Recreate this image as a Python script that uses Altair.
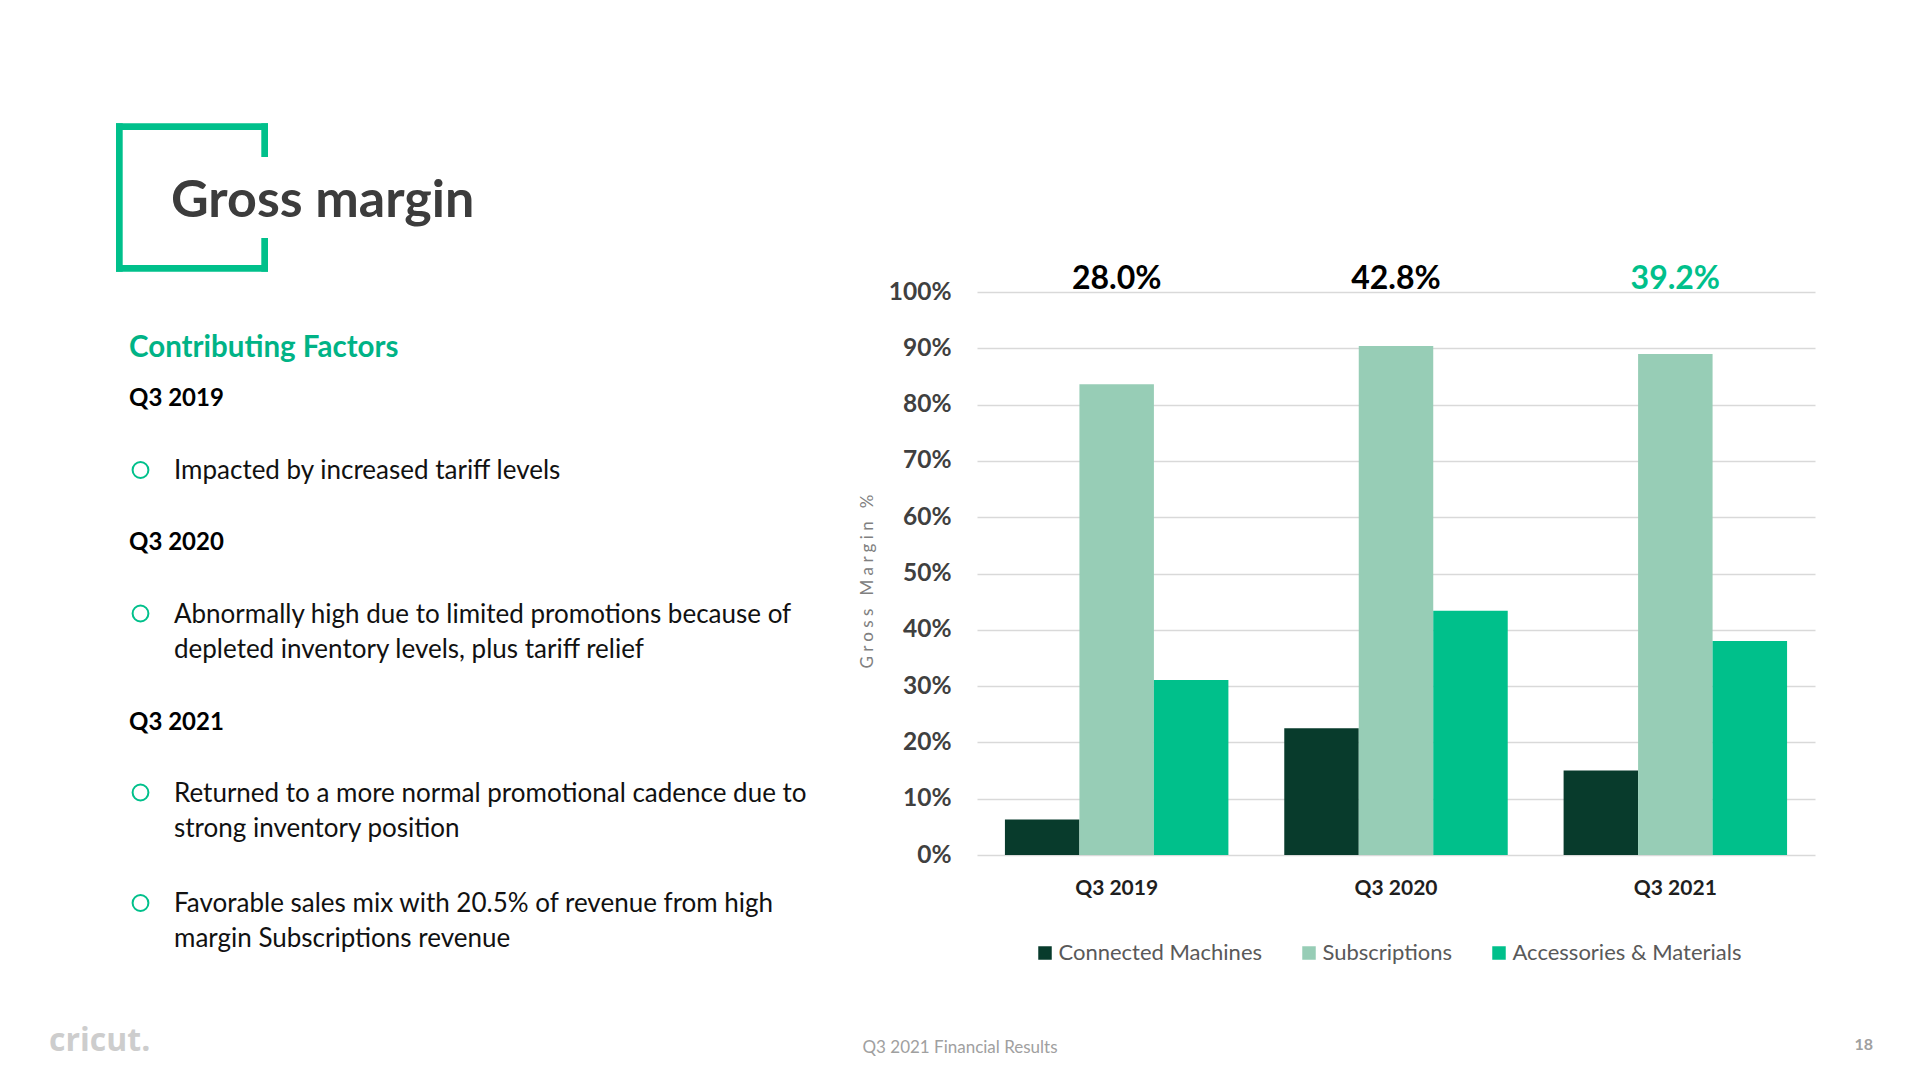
import altair as alt
import pandas as pd

# ---------------- data ----------------
quarters = ["Q3 2019", "Q3 2020", "Q3 2021"]
series = ["Connected Machines", "Subscriptions", "Accessories & Materials"]
connected_machines = [6.3, 22.5, 15.0]
subscriptions = [83.6, 90.4, 89.0]
accessories_materials = [31.1, 43.4, 38.0]
total_gross_margin = [28.0, 42.8, 39.2]
y_ticks = [0, 10, 20, 30, 40, 50, 60, 70, 80, 90, 100]

slide_title = "Gross margin"
section_title = "Contributing Factors"
period_headers = ["Q3 2019", "Q3 2020", "Q3 2021"]
bullets_2019 = [["Impacted by increased tariff levels"]]
bullets_2020 = [["Abnormally high due to limited promotions because of",
                 "depleted inventory levels, plus tariff relief"]]
bullets_2021 = [["Returned to a more normal promotional cadence due to",
                 "strong inventory position"],
                ["Favorable sales mix with 20.5% of revenue from high",
                 "margin Subscriptions revenue"]]
y_title = "Gross Margin %"
footer_center = "Q3 2021 Financial Results"
page_number = "18"
logo_text = "cricut."

# ---------------- tables ----------------
rows = []
for i, q in enumerate(quarters):
    for s, vals in zip(series, [connected_machines, subscriptions, accessories_materials]):
        rows.append({"quarter": q, "series": s, "value": vals[i]})
bars_df = pd.DataFrame(rows)
totals_df = pd.DataFrame({"quarter": quarters, "total": total_gross_margin})

# ---------------- layout ----------------
W, H = 838, 563
PAD_L, PAD_T = 969, 284
PAD_R = 1900 - PAD_L - W
PAD_B = 1060 - PAD_T - H
OX, OY = 8 + PAD_L, 8 + PAD_T

GREEN = "#00c08b"
DARK = "#083b2c"
LIGHT = "#97cdb6"
FONT = "Lato"
NB = "\u00a0"


def spaced(s):
    # letter-spaced text (non-breaking spaces so SVG keeps them)
    return NB.join(NB if ch == " " else ch for ch in s)


def page_text(s, px, py, size, color, weight="normal", align="left",
              font=FONT, angle=None, baseline="alphabetic"):
    kw = dict(text=s, fontSize=size, color=color, fontWeight=weight,
              align=align, baseline=baseline, font=font)
    if angle is not None:
        kw["angle"] = angle
    return alt.Chart(alt.Data(values=[{}])).mark_text(**kw).encode(
        x=alt.value(px - OX), y=alt.value(py - OY))


def page_rule(x1, y1, x2=None, y2=None, width=6.7, color=GREEN):
    enc = dict(x=alt.value(x1 - OX), y=alt.value(y1 - OY))
    if x2 is not None:
        enc["x2"] = alt.value(x2 - OX)
    if y2 is not None:
        enc["y2"] = alt.value(y2 - OY)
    return alt.Chart(alt.Data(values=[{}])).mark_rule(
        color=color, strokeWidth=width).encode(**enc)


def bullet(px, py):
    return alt.Chart(alt.Data(values=[{}])).mark_point(
        shape="circle", filled=False, stroke=GREEN, strokeWidth=2, size=250, opacity=1
    ).encode(x=alt.value(px - OX), y=alt.value(py - OY))


# ---------------- chart ----------------
bars = alt.Chart(bars_df).mark_bar().encode(
    x=alt.X("quarter:N", sort=quarters, title=None,
            scale=alt.Scale(paddingInner=0.2, paddingOuter=0.1)),
    xOffset=alt.XOffset("series:N", sort=series,
                        scale=alt.Scale(paddingInner=0, paddingOuter=0)),
    y=alt.Y("value:Q", title=None,
            scale=alt.Scale(domain=[0, 100], nice=False),
            axis=alt.Axis(values=y_ticks, labelExpr="datum.value + '%'")),
    color=alt.Color("series:N", sort=series,
                    scale=alt.Scale(domain=series, range=[DARK, LIGHT, GREEN]),
                    legend=alt.Legend(title=None, orient="none", direction="horizontal",
                                      legendX=57, legendY=650, symbolType="square",
                                      symbolSize=182, symbolStrokeWidth=0,
                                      labelFontSize=22, labelColor="#595959",
                                      labelFont=FONT, labelOffset=2.5, columnPadding=35,
                                      labelLimit=500, padding=0)),
)

totals = alt.Chart(totals_df).transform_calculate(
    label="format(datum.total, '.1f') + '%'"
).mark_text(fontSize=32, fontWeight="bold", font=FONT, baseline="alphabetic").encode(
    x=alt.X("quarter:N", sort=quarters, title=None),
    y=alt.value(288.5 - OY),
    text="label:N",
    color=alt.condition(alt.datum.quarter == quarters[-1], alt.value(GREEN), alt.value("#000000")),
)

layers = [bars, totals]

# y-axis title
layers.append(page_text(spaced(y_title), 868, 581.6, 17, "#808080", angle=270,
                        align="center", baseline="middle"))

# bracket around title
layers += [
    page_rule(119.35, 123.3, y2=271.7),
    page_rule(116, 126.65, x2=268),
    page_rule(116, 268.35, x2=268),
    page_rule(264.65, 123.3, y2=157),
    page_rule(264.65, 238, y2=271.7),
]

layers.append(page_text(slide_title, 171, 217, 52, "#3c3c3c", weight="bold"))
layers.append(page_text(section_title, 129, 357, 29.5, "#00b386", weight="bold"))

TX = 174
BX = 140.5
BS = 26
TC = "#111111"
layers.append(page_text(period_headers[0], 129, 406, 24, "#000000", weight="bold"))
layers.append(bullet(BX, 470))
layers.append(page_text(bullets_2019[0][0], TX, 478.5, BS, TC))

layers.append(page_text(period_headers[1], 129, 550, 24, "#000000", weight="bold"))
layers.append(bullet(BX, 613.5))
layers.append(page_text(bullets_2020[0][0], TX, 622.5, BS, TC))
layers.append(page_text(bullets_2020[0][1], TX, 658, BS, TC))

layers.append(page_text(period_headers[2], 129, 730, 24, "#000000", weight="bold"))
layers.append(bullet(BX, 792.5))
layers.append(page_text(bullets_2021[0][0], TX, 801.5, BS, TC))
layers.append(page_text(bullets_2021[0][1], TX, 837, BS, TC))
layers.append(bullet(BX, 903))
layers.append(page_text(bullets_2021[1][0], TX, 911.5, BS, TC))
layers.append(page_text(bullets_2021[1][1], TX, 947, BS, TC))

# footer
layers.append(page_text(logo_text, 49, 1051, 32, "#cdcdcd", weight="bold", font="Open Sans"))
layers.append(page_text(footer_center, 960, 1053, 17, "#a0a0a0", align="center"))
layers.append(page_text(page_number, 1873, 1050, 16, "#a0a0a0", weight="bold", align="right"))

chart = alt.layer(*layers).properties(
    width=W, height=H,
    padding={"left": PAD_L, "top": PAD_T, "right": PAD_R, "bottom": PAD_B},
    autosize=alt.AutoSizeParams(type="none"),
    background="white",
).configure_view(strokeWidth=0).configure_axis(
    labelFont=FONT, domain=False, ticks=False, tickSize=0,
).configure_axisY(
    labelFontSize=24.5, labelFontWeight="bold", labelColor="#404040", labelPadding=26,
    grid=True, gridColor="#d9d9d9", gridWidth=1.5,
).configure_axisX(
    labelFontSize=21, labelFontWeight="bold", labelColor="#1f1f1f", labelPadding=22.5,
    grid=False, labelAngle=0,
)

chart.save("out.html", embed_options={"renderer": "svg", "actions": False})
